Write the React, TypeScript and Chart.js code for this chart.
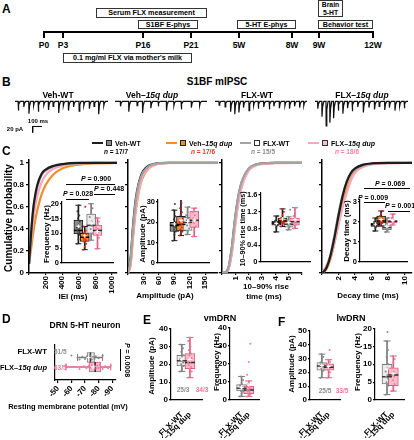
import React, { useEffect, useRef } from 'react';
import { Chart, registerables } from 'chart.js';

Chart.register(...registerables);

const FONT = '"Liberation Sans", Arial, Helvetica, sans-serif';
Chart.defaults.font.family = FONT;
(Chart.defaults.font as any).weight = 'bold';
Chart.defaults.color = '#000';

// ---------------- DATA ----------------
// A: timeline
const timepoints = ['P0', 'P3', 'P16', 'P21', '5W', '8W', '9W', '12W'];

// B: mIPSC traces (event time in ms, amplitude in pA)
const vehWtTimes = [35, 95, 150, 200, 250, 310, 360, 410, 470, 520, 575, 630, 690, 740, 800, 850, 900, 955];
const vehWtAmps = [30, 18, 40, 14, 34, 12, 28, 16, 38, 14, 30, 18, 32, 14, 24, 16, 42, 14];
const vehDupTimes = [60, 150, 240, 300, 390, 470, 560, 640, 720, 830, 920];
const vehDupAmps = [16, 34, 14, 38, 22, 16, 30, 14, 26, 20, 14];
const flxWtTimes = [45, 110, 170, 215, 260, 310, 370, 420, 470, 530, 590, 640, 700, 760, 810, 865, 920, 965];
const flxWtAmps = [12, 18, 34, 42, 36, 20, 30, 14, 24, 18, 26, 16, 22, 14, 24, 16, 20, 14];
const flxDupTimes = [30, 75, 120, 160, 200, 250, 300, 350, 400, 460, 520, 580, 640, 690, 750, 800, 860, 910, 960];
const flxDupAmps = [24, 50, 80, 70, 55, 30, 40, 22, 32, 18, 36, 20, 26, 16, 28, 20, 30, 16, 22];
const SCALE_MS = 100;
const SCALE_PA = 20;

// C: cumulative distributions (x grid, then Veh-WT, Veh-15q dup, FLX-WT, FLX-15q dup)
const ieiMs = [0, 25, 50, 75, 100, 150, 200, 300, 400, 600, 800, 1060];
const ieiVehWt = [0.08, 0.36, 0.58, 0.71, 0.8, 0.9, 0.94, 0.975, 0.99, 1, 1, 1];
const ieiVehDup = [0.08, 0.22, 0.36, 0.48, 0.57, 0.71, 0.8, 0.9, 0.95, 0.985, 0.997, 1];
const ieiFlxWt = [0.08, 0.34, 0.56, 0.69, 0.78, 0.885, 0.93, 0.97, 0.988, 0.999, 1, 1];
const ieiFlxDup = [0.08, 0.28, 0.47, 0.6, 0.7, 0.82, 0.89, 0.95, 0.975, 0.993, 1, 1];

const ampPa = [0, 5, 10, 15, 20, 25, 30, 40, 50, 60, 80, 175];
const ampVehWt = [0, 0.13, 0.44, 0.67, 0.8, 0.88, 0.93, 0.975, 0.99, 0.998, 1, 1];
const ampVehDup = [0, 0.07, 0.33, 0.56, 0.71, 0.82, 0.88, 0.95, 0.98, 0.994, 1, 1];
const ampFlxWt = [0, 0.12, 0.42, 0.65, 0.79, 0.87, 0.92, 0.97, 0.99, 0.997, 1, 1];
const ampFlxDup = [0, 0.08, 0.35, 0.58, 0.73, 0.83, 0.89, 0.95, 0.98, 0.995, 1, 1];

const riseMs = [0, 0.3, 0.5, 0.75, 1, 1.25, 1.5, 2, 2.5, 3, 4, 6];
const riseVehWt = [0, 0.01, 0.05, 0.24, 0.51, 0.71, 0.83, 0.945, 0.983, 0.995, 1, 1];
const riseVehDup = [0, 0.005, 0.04, 0.2, 0.45, 0.66, 0.8, 0.935, 0.978, 0.992, 1, 1];
const riseFlxWt = [0, 0.01, 0.06, 0.25, 0.52, 0.72, 0.84, 0.95, 0.985, 0.995, 1, 1];
const riseFlxDup = [0, 0.005, 0.04, 0.19, 0.44, 0.65, 0.79, 0.93, 0.975, 0.99, 0.999, 1];

const decayMs = [0, 0.5, 1, 1.5, 2, 2.5, 3, 3.5, 4, 5, 6, 8, 10.9];
const decayVehWt = [0, 0.04, 0.15, 0.32, 0.52, 0.7, 0.83, 0.91, 0.95, 0.985, 0.996, 1, 1];
const decayVehDup = [0, 0.03, 0.12, 0.27, 0.45, 0.62, 0.76, 0.86, 0.92, 0.97, 0.99, 0.999, 1];
const decayFlxWt = [0, 0.05, 0.16, 0.34, 0.54, 0.71, 0.83, 0.9, 0.94, 0.98, 0.993, 1, 1];
const decayFlxDup = [0, 0.06, 0.14, 0.27, 0.44, 0.6, 0.73, 0.84, 0.91, 0.965, 0.988, 0.998, 1];

// C insets: [min, q1, median, q3, max] per group, and individual cells
const freqBox = [[6.5, 9.8, 11, 14.5, 19.5], [4.5, 7.3, 8.7, 10, 12.3], [7.7, 10, 12.7, 16.5, 20], [4.8, 9.3, 11, 12.8, 15.2]];
const freqPts = [
  [6.5, 8, 9.5, 10, 10.5, 11, 11.5, 12, 13, 14, 15, 16, 17.5, 19.5],
  [4.5, 5.5, 6.5, 7.2, 7.8, 8.2, 8.6, 8.9, 9.3, 9.8, 10.3, 11, 12.3, 19],
  [7.7, 9, 10, 11.5, 12.5, 13, 14, 15.5, 17, 18.5, 20],
  [4.8, 6.5, 8.5, 9.5, 10.5, 11, 11.5, 12, 13, 14, 15.2],
];
const ampBox = [[11, 15.5, 18.5, 20, 26], [13.5, 15.8, 19, 23, 32], [14, 16, 20, 22.5, 27.5], [13, 17.5, 21, 25.5, 27]];
const ampPts = [
  [11, 14, 15.5, 16.5, 17.5, 18, 18.5, 19, 19.5, 20, 21.5, 23, 26, 29],
  [13.5, 14.5, 15.5, 16.5, 17.5, 18.5, 19, 20, 21, 22, 23.5, 25, 27, 29.5, 32],
  [14, 15.5, 17, 18.5, 20, 21, 22, 23.5, 25, 27.5],
  [13, 16, 18, 19.5, 21, 22, 23.5, 25, 26, 27],
];
const riseBox = [[0.72, 0.88, 0.93, 0.98, 1.1], [0.85, 0.93, 0.98, 1.05, 1.27], [0.77, 0.83, 0.9, 0.96, 1.08], [0.8, 0.88, 0.96, 1.05, 1.3]];
const risePts = [
  [0.72, 0.82, 0.87, 0.9, 0.92, 0.94, 0.96, 0.98, 1.02, 1.1],
  [0.85, 0.9, 0.94, 0.97, 0.99, 1.0, 1.03, 1.06, 1.12, 1.2, 1.27],
  [0.77, 0.82, 0.85, 0.88, 0.9, 0.93, 0.96, 1.0, 1.08, 1.25],
  [0.8, 0.85, 0.9, 0.94, 0.97, 1.0, 1.04, 1.1, 1.2, 1.3],
];
const decayBox = [[1.55, 1.78, 1.87, 1.95, 2.2], [1.8, 1.95, 2.05, 2.3, 2.55], [1.5, 1.62, 1.72, 1.82, 2.2], [1.85, 1.95, 2.03, 2.1, 2.4]];
const decayPts = [
  [1.55, 1.7, 1.78, 1.82, 1.86, 1.9, 1.94, 2.0, 2.1, 2.2],
  [1.8, 1.9, 1.95, 2.0, 2.05, 2.1, 2.2, 2.3, 2.4, 2.55],
  [1.5, 1.58, 1.63, 1.68, 1.72, 1.76, 1.8, 1.9, 2.05, 2.2],
  [1.85, 1.9, 1.95, 2.0, 2.03, 2.06, 2.1, 2.2, 2.3, 2.4],
];

// D: resting membrane potential (mV), FLX-WT and FLX-15q dup
const rmpBox = [[-64.5, -71.5, -74, -77, -83], [-56, -73, -77.5, -81.5, -89]];
const rmpPts = [
  [-60, -64.5, -66, -68, -70, -71.5, -72.5, -73.5, -74, -75, -76, -77, -78, -80, -83],
  [-56, -62, -66, -69, -71, -73, -74, -75, -76, -77, -77.5, -78.5, -79, -80, -81, -82, -83, -85, -87, -89],
];

// E / F: vmDRN and lwDRN
const dupNames = ['FLX-WT', 'FLX–15q dup'];
const vmAmpBox = [[16, 19, 22, 25, 31], [12.5, 17.5, 21, 26, 35]];
const vmAmpPts = [[16, 17.5, 19, 20, 21, 22, 22.5, 23, 24, 25, 27, 29, 31], [12.5, 14, 16, 17.5, 18.5, 19.5, 20.5, 21, 22, 23.5, 25, 26, 28, 30, 33, 35]];
const vmFreqBox = [[2, 5, 6.5, 8.5, 13], [2, 3.5, 5.5, 7.5, 10.5]];
const vmFreqPts = [[2, 3.5, 4.5, 5, 6, 6.5, 7, 8, 9, 11, 13], [2, 2.5, 3, 3.5, 4, 4.5, 5, 5.5, 6, 6.5, 7, 7.5, 8.5, 10.5, 14, 21, 31]];
const lwAmpBox = [[16, 21.5, 24.5, 27, 33], [16, 21.5, 23.5, 26, 29]];
const lwAmpPts = [[16, 19, 21, 22.5, 24, 25, 26, 27, 29, 31, 33], [16, 18, 20, 21.5, 22.5, 23.5, 24.5, 25.5, 26, 27.5, 29, 36]];
const lwFreqBox = [[1.5, 4.5, 6.5, 10, 16.5], [2.5, 4, 7, 9, 12.3]];
const lwFreqPts = [[1.5, 3, 4, 5, 6, 6.5, 7, 8, 9, 10, 12, 14, 16.5, 19], [2.5, 3.5, 4.5, 5.5, 6.5, 7, 8, 9, 10.5, 11.5, 12.3]];

// ---------------- STYLES ----------------
type Sty = { fill: string; edge: string; dot: string; med: string };
const S_VEH_WT: Sty = { fill: '#8c8c8c', edge: '#1a1a1a', dot: '#3a3a3a', med: '#000' };
const S_VEH_DUP: Sty = { fill: '#f28c28', edge: '#1a1a1a', dot: '#e02020', med: '#000' };
const S_FLX_WT: Sty = { fill: '#ebebeb', edge: '#7a7a7a', dot: '#8a8a8a', med: '#3a3a3a' };
const S_FLX_DUP: Sty = { fill: '#f8bccb', edge: '#d2607f', dot: '#f27a9c', med: '#2a2a2a' };
const STY4 = [S_VEH_WT, S_VEH_DUP, S_FLX_WT, S_FLX_DUP];
const CUM_COLORS = ['#1e1e1e', '#f28c28', '#a3a3a3', '#f6a9bc'];
const ORDER_TOP_BLACK = [1, 4, 2, 3];
const ORDER_TOP_GRAY = [4, 3, 1, 2];

const axisBorder = () => ({ display: true, color: '#000', width: 1.5 });
const thinBorder = () => ({ display: true, color: '#000', width: 1.2 });
const tickGrid = (len = 3) => ({ display: true, drawOnChartArea: false, drawTicks: true, tickLength: len, color: '#000', lineWidth: 1.2 });
const tickFont = (size = 8) => ({ size, weight: 'bold', family: FONT });

const jit = (j: number) => (((j * 3) % 7) - 3) / 3;
const avg = (a: number[]) => a.reduce((s, v) => s + v, 0) / a.length;

function boxSets(stats: number[][], pts: number[][], sty: Sty[], boxW: number, capW: number, spread: number, horiz = false) {
  const P = (pos: number, val: any) => (horiz ? { x: val, y: pos } : { x: pos, y: val });
  const ia = horiz ? 'y' : 'x';
  const rot = horiz ? 90 : 0;
  return [
    {
      type: 'bar', indexAxis: ia, grouped: false, order: 6, barThickness: 1, borderWidth: 0,
      data: stats.map((s, i) => P(i + 1, [s[0], s[4]])), backgroundColor: sty.map((s) => s.edge),
    },
    {
      type: 'bar', indexAxis: ia, grouped: false, order: 5, barThickness: boxW, borderWidth: 1, borderSkipped: false,
      data: stats.map((s, i) => P(i + 1, [s[1], s[3]])), backgroundColor: sty.map((s) => s.fill), borderColor: sty.map((s) => s.edge),
    },
    {
      type: 'scatter', order: 4, pointStyle: 'line', pointRadius: capW / 2, pointRotation: rot, pointBorderWidth: 1,
      data: stats.flatMap((s, i) => [P(i + 1, s[0]), P(i + 1, s[4])]), pointBorderColor: sty.flatMap((s) => [s.edge, s.edge]),
    },
    {
      type: 'scatter', order: 3, pointStyle: 'line', pointRadius: boxW / 2, pointRotation: rot, pointBorderWidth: 1.5,
      data: stats.map((s, i) => P(i + 1, s[2])), pointBorderColor: sty.map((s) => s.med),
    },
    {
      type: 'scatter', order: 2, pointRadius: 1, pointBorderWidth: 0,
      data: pts.flatMap((arr, i) => arr.map((v, j) => P(i + 1 + jit(j) * spread, v))),
      pointBackgroundColor: pts.flatMap((arr, i) => arr.map(() => sty[i].dot)),
    },
    {
      type: 'scatter', order: 1, pointStyle: 'cross', pointRadius: 2, pointBorderWidth: 1.1, pointBorderColor: '#fff',
      data: pts.map((arr, i) => P(i + 1, avg(arr))),
    },
  ];
}

function cumConfig(xs: number[], series: number[][], xMax: number, step: number, lastTick: number, yLabels: boolean, order: number[]) {
  return {
    type: 'line',
    data: {
      datasets: series.map((ys, i) => ({
        data: xs.map((x, j) => ({ x, y: ys[j] })),
        borderColor: CUM_COLORS[i], borderWidth: 2.2, pointRadius: 0, cubicInterpolationMode: 'monotone', fill: false, order: order[i],
      })),
    },
    options: {
      scales: {
        x: {
          type: 'linear', min: 0, max: xMax,
          ticks: { stepSize: step, includeBounds: false, autoSkip: false, minRotation: 90, maxRotation: 90, font: tickFont(), color: '#000', padding: 1,
            callback: (v: number) => (v > 0 && v <= lastTick + 1e-9 ? String(Math.round(v * 100) / 100) : '') },
          grid: tickGrid(2), border: axisBorder(),
        },
        y: {
          type: 'linear', min: 0, max: 1.027,
          ticks: { stepSize: 0.2, includeBounds: false, display: yLabels, font: tickFont(), color: '#000', padding: 2,
            callback: (v: number) => (v === 0 ? '0' : Math.abs(v - 1) < 1e-6 ? '1' : v.toFixed(1)) },
          grid: tickGrid(3), border: axisBorder(),
        },
      },
    },
  };
}

function insetConfig(stats: number[][], pts: number[][], xMin: number, xMax: number, yMax: number, yStep: number, dec: number) {
  return {
    type: 'scatter',
    data: { datasets: boxSets(stats, pts, STY4, 9, 6, 0.22) },
    options: {
      scales: {
        x: { type: 'linear', min: xMin, max: xMax, ticks: { display: false }, grid: { display: false }, border: thinBorder() },
        y: {
          type: 'linear', min: 0, max: yMax,
          ticks: { stepSize: yStep, includeBounds: false, autoSkip: false, font: tickFont(7.5), color: '#000', padding: 1,
            callback: (v: number) => (v === 0 ? '0' : v.toFixed(dec)) },
          grid: tickGrid(2), border: thinBorder(),
        },
      },
    },
  };
}

function smallBoxConfig(stats: number[][], pts: number[][], xMin: number, xMax: number, yMax: number, yStep: number) {
  return {
    type: 'scatter',
    data: { datasets: boxSets(stats, pts, [S_FLX_WT, S_FLX_DUP], 10, 7, 0.22) },
    options: {
      scales: {
        x: {
          type: 'linear', min: xMin, max: xMax,
          afterBuildTicks: (s: any) => { s.ticks = [{ value: 1 }, { value: 2 }]; },
          ticks: { autoSkip: false, minRotation: 45, maxRotation: 45, font: tickFont(), color: '#000', padding: 2,
            callback: (v: number) => dupNames[Math.round(v) - 1] || '' },
          grid: { display: false }, border: thinBorder(),
        },
        y: {
          type: 'linear', min: 0, max: yMax,
          ticks: { stepSize: yStep, includeBounds: false, autoSkip: false, font: tickFont(), color: '#000', padding: 1 },
          grid: tickGrid(2), border: thinBorder(),
        },
      },
    },
  };
}

function rmpConfig() {
  return {
    type: 'scatter',
    data: { datasets: boxSets(rmpBox, rmpPts, [S_FLX_WT, S_FLX_DUP], 10, 7, 0.22, true) },
    options: {
      scales: {
        x: {
          type: 'linear', min: -92.5, max: -47.5, reverse: true,
          ticks: { stepSize: 10, includeBounds: false, autoSkip: false, font: tickFont(), color: '#000', padding: 1 },
          grid: tickGrid(3), border: thinBorder(),
        },
        y: { type: 'linear', min: 0.25, max: 2.75, reverse: true, ticks: { display: false }, grid: { display: false }, border: thinBorder() },
      },
    },
  };
}

function traceConfig(times: number[], amps: number[], withBar: boolean) {
  const pts: { x: number; y: number }[] = [{ x: 0, y: 0 }];
  times.forEach((t, i) => {
    pts.push({ x: t - 2, y: 0 }, { x: t, y: -amps[i] }, { x: t + 7, y: -amps[i] * 0.35 }, { x: t + 20, y: 0 });
  });
  pts.push({ x: 1000, y: 0 });
  const ds: any[] = [{ data: pts, borderColor: '#111', borderWidth: 1.2, pointRadius: 0, tension: 0 }];
  if (withBar) {
    const t0 = 190, v0 = -82;
    ds.push({
      data: [{ x: t0 + SCALE_MS, y: v0 }, { x: t0, y: v0 }, { x: t0, y: v0 - SCALE_PA }],
      borderColor: '#000', borderWidth: 1, pointRadius: 0, tension: 0,
    });
  }
  return {
    type: 'line',
    data: { datasets: ds },
    options: {
      scales: {
        x: { type: 'linear', display: false, min: 0, max: 1000 },
        y: { type: 'linear', display: false, min: -110, max: 8 },
      },
    },
  };
}

// ---------------- COMPONENTS ----------------
type Area = { l: number; t: number; r: number; b: number; wY: number; hX: number; pt?: number; pr?: number; pl?: number; pb?: number };

function ChartBox({ area, make }: { area: Area; make: () => any }) {
  const ref = useRef<HTMLCanvasElement>(null);
  const pt = area.pt ?? 2, pr = area.pr ?? 2, pl = area.pl ?? 0, pb = area.pb ?? 0;
  const left = Math.round(area.l - area.wY - pl);
  const top = Math.round(area.t - pt);
  const width = Math.round(area.r + pr - left);
  const height = Math.round(area.b + area.hX + pb - top);
  const padL = area.l - area.wY - left;
  const padT = area.t - top;
  useEffect(() => {
    const cfg = make();
    const o = cfg.options || {};
    o.responsive = false;
    o.maintainAspectRatio = false;
    o.animation = false;
    o.devicePixelRatio = 1;
    o.events = [];
    o.layout = { padding: { top: padT, right: pr, left: padL, bottom: pb } };
    o.plugins = { legend: { display: false }, tooltip: { enabled: false } };
    const fitter = (size: number, horiz: boolean) => (s: any) => {
      if (horiz) s.height = size; else s.width = size;
      s.paddingTop = 0; s.paddingBottom = 0; s.paddingLeft = 0; s.paddingRight = 0;
    };
    o.scales.x.afterFit = fitter(area.hX, true);
    o.scales.y.afterFit = fitter(area.wY, false);
    cfg.options = o;
    const chart = new Chart(ref.current as HTMLCanvasElement, cfg);
    return () => chart.destroy();
  }, []);
  return <canvas ref={ref} width={width} height={height} style={{ position: 'absolute', left, top, width, height }} />;
}

function Tx({ x, y, s = 8, a = 'c', c = '#000', r = 0, children }: any) {
  const tx = a === 'l' ? '0%' : a === 'r' ? '-100%' : '-50%';
  return (
    <div style={{
      position: 'absolute', left: x, top: y, transform: `translate(${tx},-50%)` + (r ? ` rotate(${r}deg)` : ''),
      whiteSpace: 'nowrap', fontSize: s, fontWeight: 700, color: c, lineHeight: 1, fontFamily: FONT,
    }}>{children}</div>
  );
}

function Ln({ x, y, w = 1, h = 1, c = '#000' }: any) {
  return <div style={{ position: 'absolute', left: x, top: y, width: w, height: h, background: c }} />;
}

function Bx({ x1, y1, x2, y2, s = 7.2, children }: any) {
  return (
    <div style={{
      position: 'absolute', left: x1, top: y1, width: x2 - x1, height: y2 - y1, border: '1px solid #333', boxSizing: 'border-box',
      display: 'flex', alignItems: 'center', justifyContent: 'center', fontSize: s, fontWeight: 700, lineHeight: 1.05,
      textAlign: 'center', whiteSpace: 'nowrap', fontFamily: FONT, background: '#fff',
    }}>{children}</div>
  );
}

function LegendItem({ x, line, fill, edge, children }: any) {
  return (
    <>
      <Ln x={x} y={142} w={11} h={2} c={line} />
      <div style={{ position: 'absolute', left: x + 14, top: 140, width: 6, height: 6, boxSizing: 'border-box', background: fill, border: `1px solid ${edge}` }} />
      <Tx x={x + 23} y={143} a="l" s={7}>{children}</Tx>
    </>
  );
}

const TL_X = [44, 63, 143, 191, 239, 292, 319, 373];

export default function App() {
  const dupLabel = (pre: string) => <>{pre}–<i>15q dup</i></>;
  return (
    <div style={{ position: 'absolute', left: 0, top: 0, width: 414, height: 440, overflow: 'hidden', background: '#fff', fontFamily: FONT, color: '#000' }}>
      {/* B traces */}
      <ChartBox area={{ l: 15, t: 98.6, r: 108, b: 134.5, wY: 0, hX: 0, pt: 0, pr: 0 }} make={() => traceConfig(vehWtTimes, vehWtAmps, true)} />
      <ChartBox area={{ l: 115, t: 98.6, r: 207, b: 134.5, wY: 0, hX: 0, pt: 0, pr: 0 }} make={() => traceConfig(vehDupTimes, vehDupAmps, false)} />
      <ChartBox area={{ l: 215, t: 98.6, r: 307, b: 134.5, wY: 0, hX: 0, pt: 0, pr: 0 }} make={() => traceConfig(flxWtTimes, flxWtAmps, false)} />
      <ChartBox area={{ l: 315, t: 98.6, r: 408, b: 134.5, wY: 0, hX: 0, pt: 0, pr: 0 }} make={() => traceConfig(flxDupTimes, flxDupAmps, false)} />

      {/* C main cumulative plots */}
      <ChartBox area={{ l: 29, t: 160, r: 117, b: 273, wY: 29, hX: 26, pt: 10, pr: 2 }}
        make={() => cumConfig(ieiMs, [ieiVehWt, ieiVehDup, ieiFlxWt, ieiFlxDup], 1060, 200, 1000, true, ORDER_TOP_BLACK)} />
      <ChartBox area={{ l: 128, t: 160, r: 218, b: 273, wY: 5, hX: 26, pt: 10, pr: 2 }}
        make={() => cumConfig(ampPa, [ampVehWt, ampVehDup, ampFlxWt, ampFlxDup], 175, 30, 150, false, ORDER_TOP_GRAY)} />
      <ChartBox area={{ l: 222, t: 160, r: 302, b: 273, wY: 5, hX: 26, pt: 10, pr: 2 }}
        make={() => cumConfig(riseMs, [riseVehWt, riseVehDup, riseFlxWt, riseFlxDup], 6, 1, 5, false, ORDER_TOP_GRAY)} />
      <ChartBox area={{ l: 322, t: 160, r: 412, b: 273, wY: 5, hX: 26, pt: 10, pr: 2 }}
        make={() => cumConfig(decayMs, [decayVehWt, decayVehDup, decayFlxWt, decayFlxDup], 10.9, 2, 10, false, ORDER_TOP_BLACK)} />

      {/* C insets */}
      <ChartBox area={{ l: 62, t: 202, r: 118, b: 268, wY: 14, hX: 1, pt: 6, pr: 1 }} make={() => insetConfig(freqBox, freqPts, 0.43, 4.43, 20.6, 5, 0)} />
      <ChartBox area={{ l: 158, t: 200, r: 214, b: 268, wY: 14, hX: 1, pt: 6, pr: 1 }} make={() => insetConfig(ampBox, ampPts, 0.45, 4.31, 31, 10, 0)} />
      <ChartBox area={{ l: 260.5, t: 193, r: 315, b: 267, wY: 16, hX: 1, pt: 6, pr: 1 }} make={() => insetConfig(riseBox, risePts, 0.45, 4.43, 1.65, 0.4, 1)} />
      <ChartBox area={{ l: 360, t: 200, r: 412, b: 267, wY: 10, hX: 1, pt: 6, pr: 1 }} make={() => insetConfig(decayBox, decayPts, 0.375, 4.44, 3.1, 1, 0)} />

      {/* D */}
      <ChartBox area={{ l: 50, t: 340, r: 118, b: 380, wY: 2, hX: 16, pt: 2, pr: 4 }} make={rmpConfig} />

      {/* E / F */}
      <ChartBox area={{ l: 171, t: 328, r: 208, b: 400, wY: 12, hX: 38, pt: 6, pr: 1, pl: 22 }} make={() => smallBoxConfig(vmAmpBox, vmAmpPts, 0.63, 2.58, 40, 10)} />
      <ChartBox area={{ l: 230, t: 327, r: 265, b: 400, wY: 12, hX: 38, pt: 6, pr: 1, pl: 22 }} make={() => smallBoxConfig(vmFreqBox, vmFreqPts, 0.41, 2.47, 40, 10)} />
      <ChartBox area={{ l: 310, t: 330, r: 346, b: 400, wY: 12, hX: 38, pt: 6, pr: 1, pl: 22 }} make={() => smallBoxConfig(lwAmpBox, lwAmpPts, 0.375, 2.625, 50, 10)} />
      <ChartBox area={{ l: 375, t: 328, r: 410, b: 400, wY: 12, hX: 38, pt: 6, pr: 1, pl: 22 }} make={() => smallBoxConfig(lwFreqBox, lwFreqPts, 0.267, 2.6, 20, 5)} />

      {/* ---------- A ---------- */}
      <Tx x={2} y={9} s={12} a="l">A</Tx>
      <Bx x1={96} y1={8} x2={207} y2={18}>Serum FLX measurement</Bx>
      <Bx x1={138} y1={20} x2={198} y2={29}>S1BF E-phys</Bx>
      <Bx x1={237} y1={20} x2={296} y2={29}>5-HT E-phys</Bx>
      <Bx x1={318} y1={0} x2={343} y2={17} s={6.8}>Brain<br />5-HT</Bx>
      <Bx x1={318} y1={20} x2={373} y2={29}>Behavior test</Bx>
      <Ln x={44} y={31} w={330} h={2} />
      {timepoints.map((p, i) => (
        <React.Fragment key={p}>
          <Ln x={TL_X[i] - 0.75} y={31} w={1.5} h={7} />
          <Tx x={TL_X[i]} y={45} s={8.5}>{p}</Tx>
        </React.Fragment>
      ))}
      <Bx x1={63} y1={53} x2={192} y2={63}>0.1 mg/ml FLX via mother's milk</Bx>

      {/* ---------- B ---------- */}
      <Tx x={2} y={82} s={12} a="l">B</Tx>
      <Tx x={217} y={82} s={10}>S1BF mIPSC</Tx>
      <Tx x={58} y={95} s={8.5}>Veh-WT</Tx>
      <Tx x={152} y={95} s={8.5}>{dupLabel('Veh')}</Tx>
      <Tx x={257} y={95} s={8.5}>FLX-WT</Tx>
      <Tx x={362} y={95} s={8.5}>{dupLabel('FLX')}</Tx>
      <Tx x={38} y={121} s={6}>100 ms</Tx>
      <Tx x={15} y={129} s={6}>20 pA</Tx>

      {/* ---------- C ---------- */}
      <Tx x={2} y={151} s={12} a="l">C</Tx>
      <LegendItem x={92} line={CUM_COLORS[0]} fill="#8c8c8c" edge="#222">Veh-WT</LegendItem>
      <LegendItem x={166} line={CUM_COLORS[1]} fill="#f28c28" edge="#222">{dupLabel('Veh')}</LegendItem>
      <LegendItem x={240} line={CUM_COLORS[2]} fill="#fff" edge="#333">FLX-WT</LegendItem>
      <LegendItem x={308} line={CUM_COLORS[3]} fill="#f8bccb" edge="#333">{dupLabel('FLX')}</LegendItem>
      <Tx x={116} y={152} s={6.5}><i>n</i> = 17/7</Tx>
      <Tx x={203} y={152} s={6.5} c="#e8362d"><i>n</i> = 17/6</Tx>
      <Tx x={263} y={152} s={6.5} c="#8c8c8c"><i>n</i> = 15/5</Tx>
      <Tx x={347} y={152} s={6.5} c="#f3809f"><i>n</i> = 18/6</Tx>

      <Tx x={9} y={218} s={10} r={-90}>Cumulative probability</Tx>
      <Tx x={47} y={234} s={8} r={-90}>Frequency (Hz)</Tx>
      <Tx x={143} y={234} s={8} r={-90}>Amplitude (pA)</Tx>
      <Tx x={243} y={229} s={7.2} r={-90}>10–90% rise time (ms)</Tx>
      <Tx x={347} y={231} s={8} r={-90}>Decay time (ms)</Tx>

      <Tx x={73} y={297} s={8}>IEI (ms)</Tx>
      <Tx x={165} y={296} s={8}>Amplitude (pA)</Tx>
      <Tx x={266} y={287} s={8}>10–90% rise</Tx>
      <Tx x={264} y={297} s={8}>time (ms)</Tx>
      <Tx x={368} y={296} s={8}>Decay time (ms)</Tx>

      <Tx x={96} y={178} s={7}><i>P</i> = 0.900</Tx>
      <Ln x={66} y={183.5} w={49} h={1.2} />
      <Tx x={78} y={193} s={7}><i>P</i> = 0.028</Tx>
      <Ln x={66} y={198.5} w={23} h={1.2} />
      <Tx x={109} y={188} s={7}><i>P</i> = 0.448</Tx>
      <Ln x={94} y={193.5} w={21} h={1.2} />

      <Tx x={390} y={183} s={7}><i>P</i> = 0.069</Tx>
      <Ln x={364} y={188} w={46} h={1.2} />
      <Tx x={373} y={197} s={7}><i>P</i> = 0.009</Tx>
      <Ln x={364} y={202} w={21} h={1.2} />
      <Tx x={400} y={205} s={7}><i>P</i> = 0.001</Tx>
      <Ln x={388} y={210.5} w={22} h={1.2} />

      {/* ---------- D ---------- */}
      <Tx x={2} y={319} s={12} a="l">D</Tx>
      <Tx x={85} y={325} s={8.5}>DRN 5-HT neuron</Tx>
      <Tx x={47} y={352} s={7.8} a="r">FLX-WT</Tx>
      <Tx x={47} y={368} s={7.5} a="r">{dupLabel('FLX')}</Tx>
      <Tx x={54} y={352} s={6.5} a="l" c="#8c8c8c">51/5</Tx>
      <Tx x={54} y={368} s={6.5} a="l" c="#f07898">63/5</Tx>
      <Ln x={120} y={349} w={1.2} h={22} />
      <Tx x={127} y={360} s={7} r={90}><i>P</i> = 0.0008</Tx>
      <Tx x={68} y={407} s={7.5}>Resting membrane potential (mV)</Tx>

      {/* ---------- E ---------- */}
      <Tx x={143} y={320} s={12} a="l">E</Tx>
      <Tx x={220} y={318} s={9}>vmDRN</Tx>
      <Tx x={152} y={366} s={8} r={-90}>Amplitude (pA)</Tx>
      <Tx x={217} y={362} s={8} r={-90}>Frequency (Hz)</Tx>
      <Tx x={183} y={390} s={6.5} c="#8c8c8c">25/3</Tx>
      <Tx x={202} y={390} s={6.5} c="#f07898">34/3</Tx>

      {/* ---------- F ---------- */}
      <Tx x={278} y={322} s={12} a="l">F</Tx>
      <Tx x={351} y={318} s={9}>lwDRN</Tx>
      <Tx x={292} y={364} s={8} r={-90}>Amplitude (pA)</Tx>
      <Tx x={358} y={362} s={8} r={-90}>Frequency (Hz)</Tx>
      <Tx x={325} y={391} s={6.5} c="#8c8c8c">25/5</Tx>
      <Tx x={342} y={391} s={6.5} c="#f07898">33/5</Tx>
    </div>
  );
}
